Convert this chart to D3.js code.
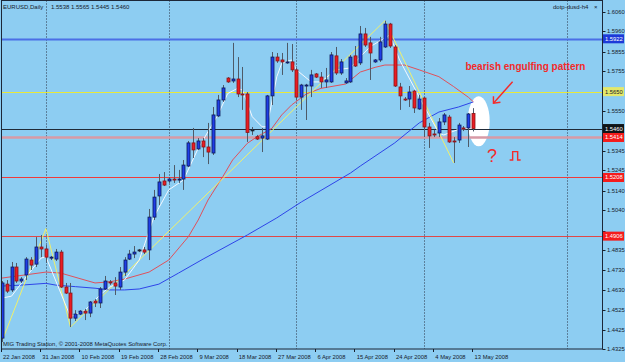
<!DOCTYPE html>
<html>
<head>
<meta charset="utf-8">
<script src="https://cdn.jsdelivr.net/npm/d3@7"></script>
<style>
    body { margin: 0; background: #8dcdf2; }
    svg { display: block; }
</style>
</head>
<body>
<div id="chart"></div>
<script>

//Daily bars (22 Jan 2008 .. 13 May 2008)
let opens = [1.4381,1.4659,1.4629,1.4747,1.4675,1.4706,1.4783,1.4762,1.4850,1.4840,
             1.4793,1.4788,1.4824,1.4644,1.4613,1.4484,1.4505,1.4520,1.4510,1.4572,
             1.4562,1.4634,1.4670,1.4665,1.4644,1.4721,1.4788,1.4814,1.4835,1.4835,
             1.4835,1.5004,1.5113,1.5190,1.5190,1.5200,1.5195,1.5200,1.5267,1.5386,
             1.5355,1.5396,1.5365,1.5334,1.5525,1.5607,1.5720,1.5705,1.5715,1.5638,
             1.5638,1.5453,1.5418,1.5411,1.5406,1.5628,1.5828,1.5813,1.5798,1.5803,
             1.5762,1.5622,1.5679,1.5679,1.5741,1.5725,1.5700,1.5700,1.5834,1.5746,
             1.5695,1.5700,1.5834,1.5798,1.5947,1.5901,1.5803,1.5813,1.5880,1.5998,
             1.5880,1.5674,1.5612,1.5612,1.5653,1.5561,1.5617,1.5468,1.5432,1.5437,
             1.5494,1.5519,1.5396,1.5401,1.5463,1.5463,1.5538];
let highs = [1.4675,1.4680,1.4773,1.4768,1.4695,1.4798,1.4798,1.4901,1.4912,1.4860,
             1.4804,1.4840,1.4835,1.4665,1.4665,1.4525,1.4525,1.4531,1.4572,1.4582,
             1.4644,1.4701,1.4680,1.4695,1.4747,1.4798,1.4835,1.4855,1.4840,1.4850,
             1.5046,1.5144,1.5226,1.5236,1.5210,1.5272,1.5247,1.5298,1.5396,1.5463,
             1.5411,1.5411,1.5489,1.5571,1.5633,1.5684,1.5725,1.5901,1.5828,1.5777,
             1.5648,1.5468,1.5427,1.5463,1.5633,1.5854,1.5849,1.5849,1.5901,1.5895,
             1.5772,1.5690,1.5690,1.5762,1.5746,1.5751,1.5772,1.5854,1.5880,1.5818,
             1.5720,1.5839,1.5885,1.5988,1.5978,1.5932,1.5818,1.5932,1.6015,1.6004,
             1.5890,1.5695,1.5622,1.5679,1.5659,1.5633,1.5622,1.5489,1.5453,1.5514,
             1.5540,1.5530,1.5416,1.5489,1.5473,1.5540,1.5565];
let lows  = [1.4361,1.4613,1.4618,1.4665,1.4665,1.4680,1.4732,1.4747,1.4798,1.4768,
             1.4783,1.4778,1.4639,1.4608,1.4438,1.4469,1.4500,1.4474,1.4489,1.4541,
             1.4536,1.4629,1.4655,1.4603,1.4629,1.4701,1.4783,1.4793,1.4824,1.4814,
             1.4783,1.4989,1.5066,1.5164,1.5180,1.5180,1.5180,1.5144,1.5262,1.5308,
             1.5350,1.5313,1.5277,1.5324,1.5519,1.5597,1.5695,1.5695,1.5622,1.5556,
             1.5391,1.5427,1.5401,1.5339,1.5401,1.5581,1.5798,1.5736,1.5793,1.5751,
             1.5607,1.5556,1.5504,1.5622,1.5720,1.5669,1.5669,1.5695,1.5736,1.5736,
             1.5690,1.5695,1.5777,1.5787,1.5880,1.5710,1.5798,1.5803,1.5875,1.5875,
             1.5674,1.5556,1.5602,1.5571,1.5540,1.5556,1.5416,1.5360,1.5416,1.5416,
             1.5478,1.5386,1.5283,1.5386,1.5447,1.5365,1.5445];
let closes = [1.4665,1.4623,1.4747,1.4675,1.4685,1.4788,1.4757,1.4850,1.4840,1.4798,
             1.4798,1.4824,1.4644,1.4613,1.4484,1.4505,1.4520,1.4510,1.4567,1.4562,
             1.4634,1.4675,1.4665,1.4649,1.4721,1.4783,1.4814,1.4824,1.4835,1.4824,
             1.5004,1.5107,1.5185,1.5169,1.5200,1.5195,1.5200,1.5272,1.5386,1.5350,
             1.5396,1.5365,1.5339,1.5530,1.5607,1.5669,1.5700,1.5715,1.5638,1.5633,
             1.5440,1.5453,1.5406,1.5422,1.5628,1.5828,1.5808,1.5803,1.5803,1.5762,
             1.5622,1.5684,1.5684,1.5736,1.5725,1.5700,1.5710,1.5839,1.5746,1.5803,
             1.5705,1.5828,1.5782,1.5947,1.5890,1.5849,1.5813,1.5906,1.5998,1.5885,
             1.5679,1.5628,1.5607,1.5648,1.5566,1.5612,1.5468,1.5422,1.5427,1.5494,
             1.5530,1.5391,1.5391,1.5478,1.5458,1.5535,1.5460];

//Time axis labels and the bar each one marks
let dateLabels = ["22 Jan 2008","31 Jan 2008","10 Feb 2008","19 Feb 2008","28 Feb 2008",
                  "9 Mar 2008","18 Mar 2008","27 Mar 2008","6 Apr 2008","15 Apr 2008",
                  "24 Apr 2008","4 May 2008","13 May 2008"];
let dateBars = [0, 8, 16, 24, 32, 40, 48, 56, 64, 72, 80, 88, 96];

//Price scale labels
let priceTicks = [1.6060,1.5960,1.5855,1.5755,1.5650,1.5550,1.5450,1.5345,1.5245,
                  1.5140,1.5040,1.4935,1.4835,1.4730,1.4630,1.4525,1.4425,1.4325];

//Month separators (bar index)
let gridBars = [9, 34, 60, 86, 115];

//Horizontal line levels
let levelPrices = [1.5922, 1.5650, 1.5460, 1.5414, 1.5208, 1.4906];

//Indicator lines (bar index, price)
let redMaBars   = [0,9,12,19,22,25,30,34,38,40,42,45,47,50,52,55,57,59,62,65,70,73,76,78,82,85,89,92,95,96];
let redMaValues = [1.4690,1.4721,1.4716,1.4665,1.4671,1.4685,1.4721,1.4783,1.4903,1.4989,
                   1.5092,1.5212,1.5298,1.5384,1.5418,1.5461,1.5530,1.5581,1.5638,1.5667,
                   1.5689,1.5751,1.5775,1.5787,1.5787,1.5762,1.5727,1.5676,1.5621,1.5598];
let blueMaBars   = [0,4,9,11,15,19,22,25,28,32,36,41,50,56,61,71,73,80,85,89,93,96];
let blueMaValues = [1.4649,1.4654,1.4663,1.4654,1.4646,1.4638,1.4629,1.4629,1.4634,1.4659,
                    1.4716,1.4788,1.4912,1.5000,1.5082,1.5231,1.5267,1.5386,1.5489,1.5545,
                    1.5571,1.5597];
let whiteBars   = [0,2,5,8,9,14,17,20,22,25,28,31,34,37,40,44,46,48,49,51,53,54,56,57,59,
                   60,63,65,68,71,73,75,79,81,86,89,90,93,95];
let whiteValues = [1.4587,1.4597,1.4697,1.4793,1.4800,1.4491,1.4526,1.4603,1.4644,1.4680,
                   1.4783,1.5006,1.5144,1.5195,1.5358,1.5530,1.5640,1.5667,1.5658,1.5521,
                   1.5469,1.5469,1.5727,1.5796,1.5813,1.5762,1.5700,1.5700,1.5762,1.5772,
                   1.5830,1.5881,1.5942,1.5813,1.5574,1.5437,1.5427,1.5456,1.5461];
let zigzagBars   = [0, 9, 14, 78, 92];
let zigzagValues = [1.4361, 1.4945, 1.4438, 1.6015, 1.5283];

//Header texts
let symbolText = "EURUSD,Daily";
let quoteText = "1.5538 1.5565 1.5445 1.5460";

/////// Setup
let width = 625, height = 362;
let plot = {left: 1.5, top: 0.5, right: 602.5, bottom: 349};
let font = "'Liberation Sans', Arial, sans-serif";
let ink = "#16202c";

let svg = d3.select("#chart").append("svg")
    .attr("width", width)
    .attr("height", height);

svg.append("rect").attr("width", width).attr("height", height).attr("fill", "#8dcdf2");

//Scales: bar index -> x, price -> y
let xScale = d3.scaleLinear().domain([0, 96]).range([1.7, 473.3]);
let yScale = d3.scaleLinear().domain([1.4325, 1.6060]).range([349, 12]);

svg.append("clipPath").attr("id", "plotClip")
    .append("rect")
    .attr("x", plot.left).attr("y", plot.top)
    .attr("width", plot.right - plot.left).attr("height", plot.bottom - plot.top);

let inner = svg.append("g").attr("clip-path", "url(#plotClip)");

//Month grid
inner.append("g").selectAll("line")
    .data(gridBars)
    .join("line")
    .attr("x1", d => Math.round(xScale(d)) + 0.5)
    .attr("x2", d => Math.round(xScale(d)) + 0.5)
    .attr("y1", plot.top).attr("y2", plot.bottom)
    .attr("stroke", "#2a3346")
    .attr("stroke-dasharray", "1,2");

//Annotation ellipse sits behind lines and candles
inner.append("ellipse")
    .attr("cx", xScale(97.1)).attr("cy", yScale(1.5497))
    .attr("rx", 11).attr("ry", 25)
    .attr("fill", "#ffffff");

//Horizontal levels
let levelStyle = [
    {stroke: "#4b6fe6", w: 2,   box: "#1d3ad8", txt: "#ffffff"},
    {stroke: "#e8e83a", w: 1,   box: "#e4e86a", txt: "#16202c"},
    {stroke: "#1f2a38", w: 1,   box: "#101418", txt: "#ffffff"},
    {stroke: "#d79aa6", w: 2.5, box: "#f41c1c", txt: "#ffffff"},
    {stroke: "#f03a3a", w: 1,   box: "#f41c1c", txt: "#ffffff"},
    {stroke: "#e04848", w: 1,   box: "#f41c1c", txt: "#ffffff"}
];
inner.append("g").selectAll("line")
    .data(levelPrices)
    .join("line")
    .attr("x1", plot.left).attr("x2", plot.right)
    .attr("y1", d => Math.round(yScale(d)) + 0.5)
    .attr("y2", d => Math.round(yScale(d)) + 0.5)
    .attr("stroke", (d, i) => levelStyle[i].stroke)
    .attr("stroke-width", (d, i) => levelStyle[i].w);

//Indicator lines
function drawLine(bars, values, color, w)
{
    let line = d3.line()
        .x((d, i) => xScale(bars[i]))
        .y(d => yScale(d));
    inner.append("path")
        .attr("d", line(values))
        .attr("fill", "none")
        .attr("stroke", color)
        .attr("stroke-width", w);
}
drawLine(blueMaBars, blueMaValues, "#2e44e8", 1);
drawLine(redMaBars, redMaValues, "#e0505a", 1);
drawLine(zigzagBars, zigzagValues, "#f0f06a", 1);
drawLine(whiteBars, whiteValues, "#f4f8ff", 1);

//Candles
let bars = d3.range(opens.length);
let candles = inner.append("g").selectAll("g")
    .data(bars)
    .join("g");

candles.append("line")
    .attr("x1", i => Math.round(xScale(i)) + 0.5)
    .attr("x2", i => Math.round(xScale(i)) + 0.5)
    .attr("y1", i => yScale(highs[i]))
    .attr("y2", i => yScale(lows[i]))
    .attr("stroke", "#4e5a68")
    .attr("stroke-width", 1);

candles.append("rect")
    .attr("x", i => Math.round(xScale(i)) - 1)
    .attr("y", i => yScale(Math.max(opens[i], closes[i])))
    .attr("width", 3)
    .attr("height", i => Math.max(1, Math.abs(yScale(opens[i]) - yScale(closes[i]))))
    .attr("fill", i => closes[i] > opens[i] ? "#1f3ee6" : (closes[i] < opens[i] ? "#ea1c22" : "#1a2230"))
    .attr("stroke", i => closes[i] > opens[i] ? "#0c1a5a" : (closes[i] < opens[i] ? "#8a1418" : "#1a2230"))
    .attr("stroke-width", 0.8);

//Annotations
let red = "#f42a2a";
inner.append("text")
    .attr("x", xScale(94.4)).attr("y", yScale(1.5759))
    .attr("font-family", font).attr("font-size", "10px").attr("font-weight", "bold")
    .attr("fill", red)
    .text("bearish engulfing pattern");

let tipX = xScale(100.1), tipY = yScale(1.5590);
inner.append("line")
    .attr("x1", xScale(104)).attr("y1", yScale(1.5701))
    .attr("x2", tipX).attr("y2", tipY)
    .attr("stroke", red).attr("stroke-width", 1.4);
inner.append("path")
    .attr("d", `M${tipX},${tipY - 7} L${tipX},${tipY} L${tipX + 7},${tipY - 1}`)
    .attr("fill", "none").attr("stroke", red).attr("stroke-width", 1.4);

inner.append("text")
    .attr("x", xScale(98.8)).attr("y", yScale(1.5288))
    .attr("font-family", font).attr("font-size", "18px")
    .attr("fill", red)
    .text("?");

let px = xScale(103.4), pBase = yScale(1.5298), pTop = yScale(1.5341);
inner.append("path")
    .attr("d", `M${px},${pBase} H${px + 3} V${pTop} H${px + 8} V${pBase} H${px + 11}`)
    .attr("fill", "none").attr("stroke", red).attr("stroke-width", 1.4);

//Frame
svg.append("rect")
    .attr("x", plot.left).attr("y", plot.top)
    .attr("width", plot.right - plot.left).attr("height", plot.bottom - plot.top)
    .attr("fill", "none").attr("stroke", "#1c2738");

//Header and footer texts
svg.append("text").attr("x", 3).attr("y", 9)
    .attr("font-family", font).attr("font-size", "6px").attr("fill", ink)
    .text(symbolText);
svg.append("text").attr("x", 51).attr("y", 9)
    .attr("font-family", font).attr("font-size", "6px").attr("fill", ink)
    .text(quoteText);
svg.append("text").attr("x", 553).attr("y", 9)
    .attr("font-family", font).attr("font-size", "6px").attr("fill", ink)
    .text("dotp-dusd-h4");
svg.append("text").attr("x", 594).attr("y", 9)
    .attr("font-family", font).attr("font-size", "6px").attr("fill", ink)
    .text("×");
svg.append("text").attr("x", 3).attr("y", 346)
    .attr("font-family", font).attr("font-size", "5.9px").attr("fill", ink)
    .text("MIG Trading Station, © 2001-2008 MetaQuotes Software Corp.");

//Price scale: labels hidden behind a level box are skipped, as on the terminal
let shownTicks = priceTicks.filter(t =>
    !levelPrices.some(l => Math.abs(yScale(l) - yScale(t)) < 6));
let yAxis = svg.append("g");
yAxis.selectAll("line")
    .data(priceTicks)
    .join("line")
    .attr("x1", plot.right).attr("x2", plot.right + 3)
    .attr("y1", d => Math.round(yScale(d)) + 0.5)
    .attr("y2", d => Math.round(yScale(d)) + 0.5)
    .attr("stroke", ink);
yAxis.selectAll("text")
    .data(shownTicks)
    .join("text")
    .attr("x", plot.right + 4.5)
    .attr("y", d => yScale(d) + 2)
    .attr("font-family", font).attr("font-size", "5.8px").attr("fill", ink)
    .text(d => d.toFixed(4));

//Level price boxes on the scale
let boxes = svg.append("g").selectAll("g")
    .data(levelPrices)
    .join("g");
boxes.append("rect")
    .attr("x", plot.right + 0.5).attr("y", d => yScale(d) - 4.5)
    .attr("width", 21).attr("height", 9)
    .attr("fill", (d, i) => levelStyle[i].box);
boxes.append("text")
    .attr("x", plot.right + 2.5).attr("y", d => yScale(d) + 2)
    .attr("font-family", font).attr("font-size", "5.8px")
    .attr("fill", (d, i) => levelStyle[i].txt)
    .text(d => d.toFixed(4));

//Time scale
let xAxis = svg.append("g");
xAxis.selectAll("line")
    .data(dateBars)
    .join("line")
    .attr("x1", d => Math.round(xScale(d)) - 0.5)
    .attr("x2", d => Math.round(xScale(d)) - 0.5)
    .attr("y1", plot.bottom).attr("y2", plot.bottom + 3)
    .attr("stroke", ink);
xAxis.selectAll("text")
    .data(dateBars)
    .join("text")
    .attr("x", d => xScale(d) + 1.3)
    .attr("y", 358.5)
    .attr("font-family", font).attr("font-size", "5.8px").attr("fill", ink)
    .text((d, i) => dateLabels[i]);

</script>
</body>
</html>
